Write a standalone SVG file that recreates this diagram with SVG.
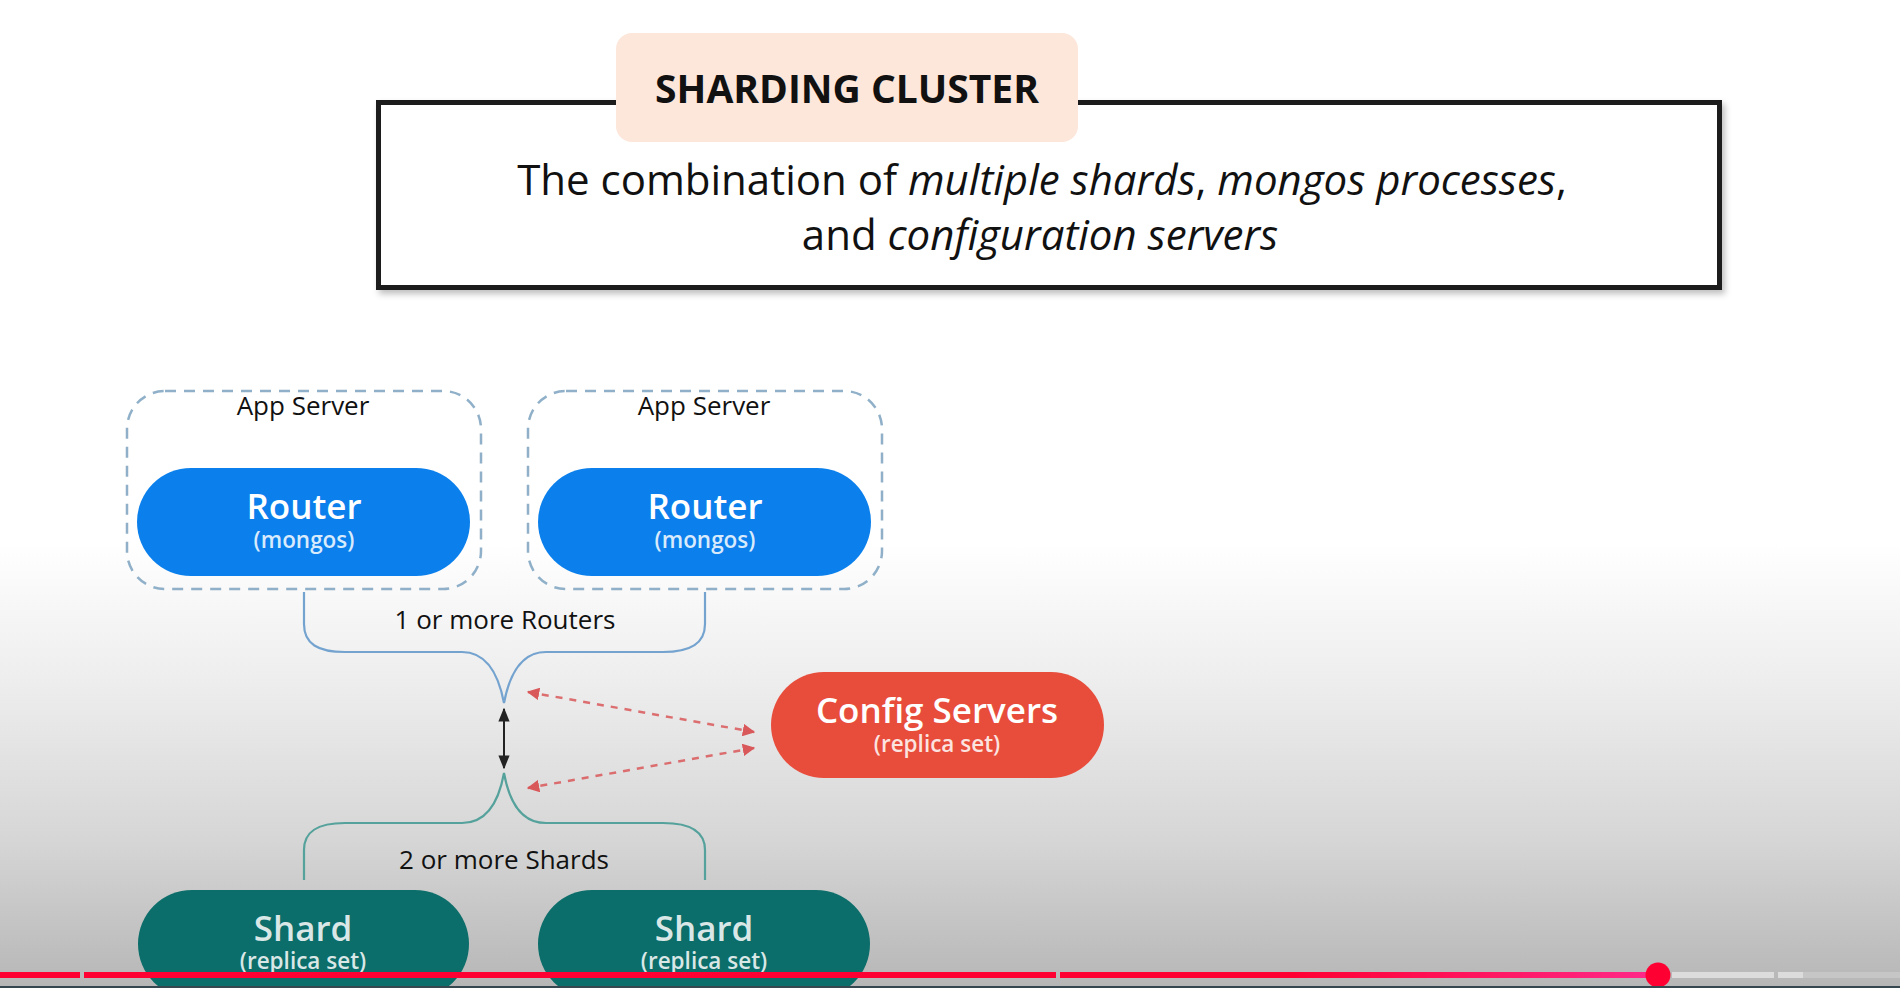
<svg xmlns="http://www.w3.org/2000/svg" width="1900" height="988" viewBox="0 0 1900 988">
  <defs>
    <linearGradient id="bg" x1="0" y1="0" x2="0" y2="1">
      <stop offset="0" stop-color="#ffffff"/>
      <stop offset="0.55" stop-color="#ffffff"/>
      <stop offset="0.7" stop-color="#ececec"/>
      <stop offset="0.85" stop-color="#d6d6d6"/>
      <stop offset="1" stop-color="#b6b6b6"/>
    </linearGradient>
    <linearGradient id="prog" x1="0" y1="0" x2="1658" y2="0" gradientUnits="userSpaceOnUse">
      <stop offset="0" stop-color="#ff0033"/>
      <stop offset="0.78" stop-color="#ff0033"/>
      <stop offset="1" stop-color="#ff2a8a"/>
    </linearGradient>
    <filter id="shadow" x="-5%" y="-10%" width="110%" height="130%">
      <feDropShadow dx="3" dy="4" stdDeviation="3" flood-color="#000" flood-opacity="0.25"/>
    </filter>
    <marker id="blk" viewBox="0 0 10 10" refX="9" refY="5" markerWidth="7" markerHeight="7" orient="auto-start-reverse">
      <path d="M0,1 L10,5 L0,9 z" fill="#222"/>
    </marker>
    <marker id="red" viewBox="0 0 10 10" refX="9" refY="5" markerWidth="5" markerHeight="5" orient="auto-start-reverse">
      <path d="M0,0 L10,5 L0,10 z" fill="#d9585a"/>
    </marker>
  </defs>
  <style>
    .sans { font-family: "Open Sans", "Noto Sans", "Liberation Sans", sans-serif; }
    .lbl { font-size: 26px; fill: #111; text-anchor: middle; }
    .big { font-size: 35px; font-weight: 600; fill: #ffffff; text-anchor: middle; }
    .sub { font-size: 22.5px; font-weight: 600; fill: #ffffff; fill-opacity: 0.85; text-anchor: middle; }
    .dash { fill: none; stroke: #8fb0c8; stroke-width: 2.5; stroke-dasharray: 11 8; }
    .rdash { stroke: #d9585a; stroke-opacity: 0.85; stroke-width: 2.5; stroke-dasharray: 7 7; }
  </style>

  <rect x="0" y="0" width="1900" height="988" fill="url(#bg)"/>

  <!-- Title -->
  <g id="title">
    <rect x="378.5" y="102.5" width="1341" height="185" fill="#ffffff" stroke="#1c1c1e" stroke-width="5" filter="url(#shadow)"/>
    <rect x="616" y="33" width="462" height="109" rx="16" fill="#fde6da"/>
    <text class="sans" x="847" y="103" font-size="39" font-weight="700" fill="#111" text-anchor="middle">SHARDING CLUSTER</text>
    <text class="sans" x="1042" y="195" font-size="42" fill="#111" text-anchor="middle">The combination of <tspan font-style="italic">multiple shards</tspan>, <tspan font-style="italic">mongos processes</tspan>,</text>
    <text class="sans" x="1040" y="250" font-size="42" fill="#111" text-anchor="middle">and <tspan font-style="italic">configuration servers</tspan></text>
  </g>

  <!-- App servers -->
  <g id="app-server-1">
    <rect class="dash" x="127" y="391" width="354" height="198" rx="38"/>
    <text class="sans lbl" x="303" y="415">App Server</text>
  </g>
  <g id="app-server-2">
    <rect class="dash" x="528" y="391" width="354" height="198" rx="38"/>
    <text class="sans lbl" x="704" y="415">App Server</text>
  </g>

  <!-- Routers -->
  <g id="router-1">
    <rect x="137" y="468" width="333" height="108" rx="54" fill="#0b80ec"/>
    <text class="sans big" x="304" y="519">Router</text>
    <text class="sans sub" x="304" y="548">(mongos)</text>
  </g>
  <g id="router-2">
    <rect x="538" y="468" width="333" height="108" rx="54" fill="#0b80ec"/>
    <text class="sans big" x="705" y="519">Router</text>
    <text class="sans sub" x="705" y="548">(mongos)</text>
  </g>

  <!-- Config servers -->
  <g id="config-servers">
    <rect x="771" y="672" width="333" height="106" rx="53" fill="#e84d3c"/>
    <text class="sans big" x="937" y="723" font-size="37">Config Servers</text>
    <text class="sans sub" x="937" y="752" font-size="23">(replica set)</text>
  </g>

  <!-- Shards -->
  <g id="shard-1">
    <rect x="138" y="890" width="331" height="108" rx="54" fill="#0c6e6a"/>
    <text class="sans big" x="303" y="941" fill-opacity="0.85">Shard</text>
    <text class="sans sub" x="303" y="969" font-size="23" fill-opacity="0.7">(replica set)</text>
  </g>
  <g id="shard-2">
    <rect x="538" y="890" width="332" height="108" rx="54" fill="#0c6e6a"/>
    <text class="sans big" x="704" y="941" fill-opacity="0.85">Shard</text>
    <text class="sans sub" x="704" y="969" font-size="23" fill-opacity="0.7">(replica set)</text>
  </g>

  <!-- Connectors -->
  <g id="connectors">
    <path d="M304,592 V624 C304,644 318,652 345,652 H462 C490,652 500,682 504,703 C508,682 518,652 546,652 H663 C690,652 705,644 705,624 V592" fill="none" stroke="#74a3cf" stroke-width="2.2"/>
    <text class="sans lbl" x="505" y="629">1 or more Routers</text>
    <path d="M304,880 V850 C304,831 318,823 345,823 H462 C490,823 500,795 504,773 C508,795 518,823 546,823 H663 C690,823 705,831 705,850 V880" fill="none" stroke="#55a19b" stroke-width="2.2"/>
    <text class="sans lbl" x="504" y="869">2 or more Shards</text>
    <line x1="504" y1="709" x2="504" y2="768" stroke="#222" stroke-width="2" marker-start="url(#blk)" marker-end="url(#blk)"/>
    <line class="rdash" x1="528" y1="692" x2="754" y2="732" marker-start="url(#red)" marker-end="url(#red)"/>
    <line class="rdash" x1="754" y1="748" x2="528" y2="788" marker-start="url(#red)" marker-end="url(#red)"/>
  </g>

  <!-- Video progress bar -->
  <g id="progress">
    <rect x="0" y="972" width="80" height="6" fill="#ff0033"/>
    <rect x="84" y="972" width="972" height="6" fill="#ff0033"/>
    <rect x="1060" y="972" width="598" height="6" fill="url(#prog)"/>
    <rect x="1672" y="972" width="102" height="6" fill="#dcdcdc"/>
    <rect x="1778" y="972" width="25" height="6" fill="#dcdcdc"/>
    <rect x="1803" y="972" width="97" height="6" fill="#c6c6c6"/>
    <circle cx="1658" cy="975" r="12.5" fill="#ff0033"/>
    <rect x="0" y="986" width="1900" height="2" fill="#37474f"/>
  </g>
</svg>
